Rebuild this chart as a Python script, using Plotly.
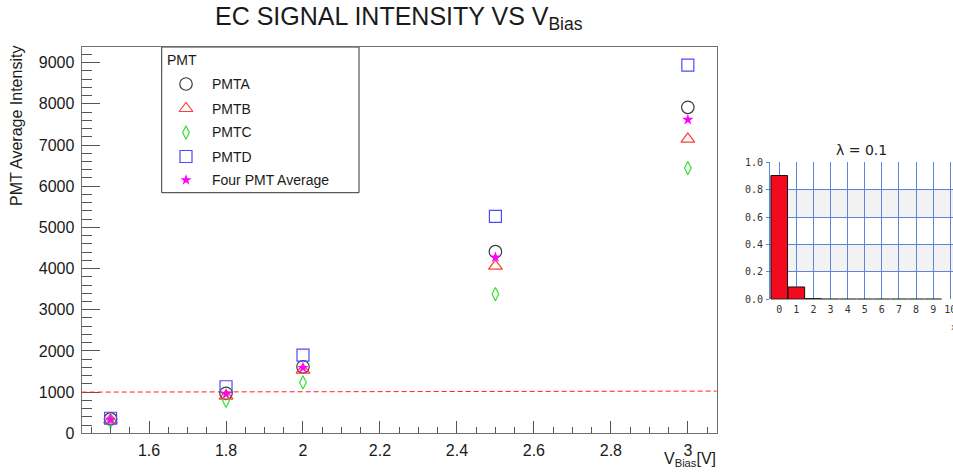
import plotly.graph_objects as go

# Canvas size in pixels
W, H = 953, 473

# ---- Main chart data: PMT average intensity vs bias voltage ----
v_bias = [1.5, 1.8, 2.0, 2.5, 3.0]
pmt_a = [350, 970, 1615, 4410, 7915]
pmt_b = [325, 905, 1535, 4060, 7145]
pmt_c = [290, 790, 1235, 3380, 6440]
pmt_d = [365, 1130, 1900, 5265, 8940]
pmt_avg = [335, 955, 1590, 4275, 7615]

series_names = ["PMTA", "PMTB", "PMTC", "PMTD", "Four PMT Average"]

x_tick_vals = [1.6, 1.8, 2.0, 2.2, 2.4, 2.6, 2.8, 3.0]
x_tick_text = ["1.6", "1.8", "2", "2.2", "2.4", "2.6", "2.8", "3"]
y_tick_vals = [0, 1000, 2000, 3000, 4000, 5000, 6000, 7000, 8000, 9000]
y_tick_text = ["0", "1000", "2000", "3000", "4000", "5000", "6000", "7000", "8000", "9000"]

# Reference level (dashed red), value at left and right edges of the frame
threshold = [1000, 1025]

# ---- Inset data: Poisson probabilities for lambda = 0.1 ----
photon_counts = [0, 1, 2, 3, 4, 5, 6, 7, 8, 9]
poisson_prob = [0.905, 0.090, 0.0045, 0.00015, 0.0, 0.0, 0.0, 0.0, 0.0, 0.0]
inset_x_ticks = [0, 1, 2, 3, 4, 5, 6, 7, 8, 9, 10]
inset_y_ticks = [0.0, 0.2, 0.4, 0.6, 0.8, 1.0]
inset_y_text = ["0.0", "0.2", "0.4", "0.6", "0.8", "1.0"]

# ---- Styling ----
FONT = "Liberation Sans, Arial, Helvetica, sans-serif"
MONO = "DejaVu Sans Mono, monospace"
TXT = "#1a1a1a"
marker_styles = [
    dict(symbol="circle-open", color="#3a3a3a", size=12.5),
    dict(symbol="triangle-up-open", color="#ff3c3c", size=12),
    dict(symbol="diamond-tall-open", color="#33e033", size=9.5),
    dict(symbol="square-open", color="#4a4aff", size=12),
    dict(symbol="star", color="#ff00ff", size=8.5),
]

def px(x):
    return x / W

def py(y):
    return 1 - y / H

# frame of the main plot (pixels)
FL, FR, FT, FB = 81.7, 716.7, 47.0, 433.3
# frame of the inset (pixels)
IL, IR, IT, IB = 770.0, 953.0, 162.0, 299.3

fig = go.Figure()

series = [pmt_a, pmt_b, pmt_c, pmt_d, pmt_avg]
for name, vals, st in zip(series_names, series, marker_styles):
    filled = st["symbol"] == "star"
    fig.add_trace(go.Scatter(
        x=v_bias, y=vals, mode="markers", name=name, showlegend=False,
        xaxis="x", yaxis="y",
        marker=dict(symbol=st["symbol"], size=st["size"], color=st["color"],
                    line=dict(color=st["color"], width=0 if filled else 1.2)),
    ))

# Legend box contents (drawn on a pixel-unit overlay axis)
leg_rows = [84, 108.5, 132.5, 156.5, 180]
for name, st, yy in zip(series_names, marker_styles, leg_rows):
    filled = st["symbol"] == "star"
    fig.add_trace(go.Scatter(
        x=[186], y=[yy], mode="markers", showlegend=False, hoverinfo="skip",
        xaxis="x2", yaxis="y2",
        marker=dict(symbol=st["symbol"], size=st["size"], color=st["color"],
                    line=dict(color=st["color"], width=0 if filled else 1.2)),
    ))

# Inset histogram
fig.add_trace(go.Bar(
    x=photon_counts, y=poisson_prob, width=0.97, xaxis="x3", yaxis="y3",
    showlegend=False,
    marker=dict(color="#f20a1e", line=dict(color="#111111", width=1)),
))

annotations = [
    dict(text="EC SIGNAL INTENSITY VS V<sub>Bias</sub>", x=px(399), y=py(18),
         xref="paper", yref="paper", xanchor="center", yanchor="middle",
         showarrow=False, font=dict(family=FONT, size=25, color=TXT)),
    dict(text="PMT Average Intensity", x=px(17), y=py(44), textangle=-90,
         xref="paper", yref="paper", xanchor="center", yanchor="top",
         showarrow=False, font=dict(family=FONT, size=16, color=TXT)),
    dict(text="V<sub>Bias</sub>[V]", x=px(718), y=py(459),
         xref="paper", yref="paper", xanchor="right", yanchor="middle",
         showarrow=False, font=dict(family=FONT, size=16, color=TXT)),
    dict(text="PMT", x=px(165), y=py(60),
         xref="paper", yref="paper", xanchor="left", yanchor="middle",
         showarrow=False, font=dict(family=FONT, size=14, color=TXT)),
    dict(text="λ = 0.1", x=px(861), y=py(150),
         xref="paper", yref="paper", xanchor="center", yanchor="middle",
         showarrow=False, font=dict(family="DejaVu Sans, sans-serif", size=14, color="#222")),
    dict(text="x", x=px(949), y=py(327),
         xref="paper", yref="paper", xanchor="left", yanchor="middle",
         showarrow=False, font=dict(family=MONO, size=9, color="#555")),
]
for name, yy in zip(series_names, leg_rows):
    annotations.append(dict(
        text=name, x=px(210), y=py(yy), xref="paper", yref="paper",
        xanchor="left", yanchor="middle", showarrow=False,
        font=dict(family=FONT, size=14, color=TXT)))

shapes = [
    # legend frame
    dict(type="rect", xref="paper", yref="paper", x0=px(161.7), x1=px(359),
         y0=py(192.7), y1=py(47), line=dict(color="#333333", width=1),
         fillcolor="white", layer="below"),
    # dashed reference level across the main frame
    dict(type="line", xref="x domain", yref="y", x0=0, x1=1,
         y0=threshold[0], y1=threshold[1],
         line=dict(color="#ff2020", width=1, dash="5px,3px"), layer="above"),
    # alternating bands in the inset
    dict(type="rect", xref="x3 domain", yref="y3", x0=0, x1=1, y0=0.2, y1=0.4,
         fillcolor="#f2f2f2", line=dict(width=0), layer="below"),
    dict(type="rect", xref="x3 domain", yref="y3", x0=0, x1=1, y0=0.6, y1=0.8,
         fillcolor="#f2f2f2", line=dict(width=0), layer="below"),
    # histogram baseline
    dict(type="line", xref="x3", yref="y3", x0=-0.5, x1=9.5, y0=0, y1=0,
         line=dict(color="#222222", width=1.2), layer="above"),
]

GRID_BLUE = "#5a86e0"

fig.update_layout(
    width=W, height=H,
    margin=dict(l=0, r=0, t=0, b=0, pad=0, autoexpand=False),
    paper_bgcolor="white",
    plot_bgcolor="rgba(0,0,0,0)",
    showlegend=False,
    annotations=annotations,
    shapes=shapes,
    font=dict(family=FONT, color=TXT),
    xaxis=dict(
        domain=[px(FL), px(FR)], anchor="y", automargin=False,
        range=[1.425, 3.075], showgrid=False, zeroline=False,
        showline=True, linecolor="#707070", linewidth=1.3, mirror=True,
        tickvals=x_tick_vals, ticktext=x_tick_text,
        ticks="inside", ticklen=12, tickwidth=1, tickcolor="#555555",
        minor=dict(dtick=0.05, tick0=1.4, ticks="inside", ticklen=6,
                   tickcolor="#555555", tickwidth=1, showgrid=False),
        tickfont=dict(family=FONT, size=16, color=TXT),
        ticklabelstandoff=2,
    ),
    yaxis=dict(
        domain=[py(FB), py(FT)], anchor="x", automargin=False,
        range=[0, 9380], showgrid=False, zeroline=False,
        showline=True, linecolor="#707070", linewidth=1.3, mirror=True,
        tickvals=y_tick_vals, ticktext=y_tick_text,
        ticks="inside", ticklen=18, tickwidth=1, tickcolor="#555555",
        minor=dict(dtick=200, tick0=0, ticks="inside", ticklen=10,
                   tickcolor="#555555", tickwidth=1, showgrid=False),
        tickfont=dict(family=FONT, size=16, color=TXT),
        ticklabelstandoff=3,
    ),
    xaxis2=dict(domain=[0, 1], anchor="y2", range=[0, W], visible=False,
                fixedrange=True, automargin=False),
    yaxis2=dict(domain=[0, 1], anchor="x2", range=[H, 0], visible=False,
                fixedrange=True, automargin=False),
    xaxis3=dict(
        domain=[px(IL), px(IR)], anchor="y3", automargin=False,
        range=[-0.54, 10.16], showgrid=True, gridcolor=GRID_BLUE, gridwidth=1,
        zeroline=False, showline=False,
        tickvals=inset_x_ticks, ticks="", ticklabeloverflow="allow",
        tickfont=dict(family=MONO, size=10, color="#333"),
        ticklabelstandoff=3,
    ),
    yaxis3=dict(
        domain=[py(IB), py(IT)], anchor="x3", automargin=False,
        range=[0, 1.004], showgrid=True, gridcolor=GRID_BLUE, gridwidth=1,
        zeroline=False, showline=True, linecolor=GRID_BLUE, linewidth=1,
        tickvals=inset_y_ticks, ticktext=inset_y_text,
        ticks="outside", ticklen=3, tickcolor=GRID_BLUE,
        tickfont=dict(family=MONO, size=10, color="#333"),
        ticklabelstandoff=1,
    ),
)

fig.write_html("out.html")
